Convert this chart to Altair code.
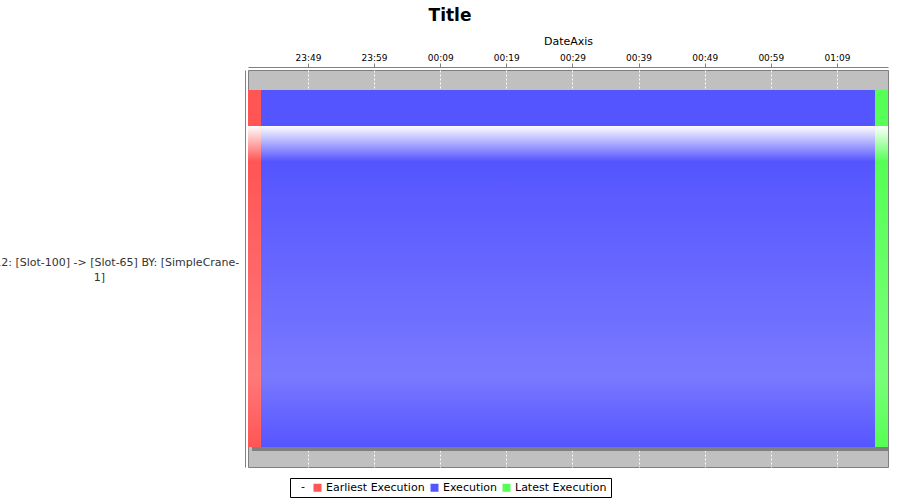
import altair as alt
import pandas as pd

# ---- data ----
task = "Order-12: [Slot-100] -> [Slot-65] BY: [SimpleCrane-1]"
series = ["Earliest Execution", "Execution", "Latest Execution"]
starts = ["2024-01-01T23:39:56", "2024-01-01T23:41:54", "2024-01-02T01:14:45"]
ends = ["2024-01-01T23:41:54", "2024-01-02T01:14:45", "2024-01-02T01:16:43"]
colors = ["#FF5555", "#5555FF", "#55FF55"]
bright = ["#FF7979", "#7979FF", "#79FF79"]
tick_labels = ["23:49", "23:59", "00:09", "00:19", "00:29", "00:39", "00:49", "00:59", "01:09"]
tick_days = [1, 1, 2, 2, 2, 2, 2, 2, 2]

df = pd.DataFrame({"task": [task] * 3, "series": series, "start": starts, "end": ends})

tick_values = [
    alt.DateTime(year=2024, month=1, date=d, hours=int(t[:2]), minutes=int(t[3:]))
    for t, d in zip(tick_labels, tick_days)
]

FONT = "DejaVu Sans"

x_enc = alt.X(
    "start:T",
    scale=alt.Scale(domain=[starts[0], ends[-1]], nice=False),
    axis=alt.Axis(
        orient="top", title="DateAxis", values=tick_values, format="%H:%M",
        offset=3, tickSize=4, tickColor="#808080", domainColor="#808080",
        labelFont=FONT, labelFontSize=9, labelColor="#000000", labelPadding=1,
        titleFont=FONT, titleFontSize=11, titleFontWeight="normal", titleColor="#000000",
        titlePadding=7, grid=True, gridColor="#FFFFFF", gridDash=[2, 2], gridWidth=1,
        labelFlush=False,
    ),
)
x2_enc = alt.X2("end:T")
y_enc = alt.Y(
    "task:N",
    scale=alt.Scale(paddingInner=0, paddingOuter=0.056),
    axis=alt.Axis(
        title=None, ticks=False, tickSize=0, offset=3, domainColor="#808080",
        labelFont=FONT, labelFontSize=11, labelColor="#333333", labelAlign="center",
        labelBaseline="middle", labelPadding=146, labelLineHeight=15, labelLimit=0,
        labelOffset=-6,
        labelExpr="split(replace(datum.label, 'SimpleCrane-', 'SimpleCrane-\\n'), '\\n')",
    ),
)

base = alt.Chart(df).encode(x=x_enc, x2=x2_enc, y=y_enc)

shadow = base.mark_bar(
    color="#808080", xOffset=4, x2Offset=4, yOffset=4, y2Offset=4, clip=True
)

legend_layer = base.mark_bar().encode(
    color=alt.Color(
        "series:N",
        scale=alt.Scale(domain=series, range=colors),
        legend=alt.Legend(
            title="\u200b\u00a0\u00a0-", orient="none", legendX=42, legendY=408,
            direction="horizontal", columns=3, titleOrient="left",
            titleFont=FONT, titleFontSize=11, titleFontWeight="normal", titleColor="#000000",
            titlePadding=7, titleBaseline="middle",
            labelFont=FONT, labelFontSize=11, labelColor="#000000",
            symbolType="square", symbolSize=64, symbolStrokeWidth=0, symbolOpacity=1,
            labelOffset=3, columnPadding=4, padding=4,
            strokeColor="#000000", fillColor="#FFFFFF",
        ),
    )
)

grad_layers = []
for s, c0, c1 in zip(series, colors, bright):
    grad = alt.Gradient(
        gradient="linear", x1=0, y1=0, x2=0, y2=1,
        stops=[
            alt.GradientStop(offset=0, color=c0),
            alt.GradientStop(offset=0.1, color=c0),
            alt.GradientStop(offset=0.1, color="#FFFFFF"),
            alt.GradientStop(offset=0.2, color=c0),
            alt.GradientStop(offset=0.8, color=c1),
            alt.GradientStop(offset=1, color=c0),
        ],
    )
    grad_layers.append(
        base.mark_bar(color=grad).transform_filter(alt.datum.series == s)
    )

chart = alt.layer(shadow, legend_layer, *grad_layers).properties(
    width=640,
    height=397,
    title=alt.TitleParams(
        "Title", font=FONT, fontSize=17, fontWeight="bold", color="#000000",
        anchor="middle", dx=-118, offset=10,
    ),
    autosize=alt.AutoSizeParams(type="none"),
    padding={"left": 248, "top": 70, "right": 12, "bottom": 33},
).configure(
    background="#FFFFFF",
    view=alt.ViewConfig(fill="#C0C0C0", stroke="#808080", strokeWidth=1),
)

chart.save("out.html", embed_options={"renderer": "svg", "actions": False})
